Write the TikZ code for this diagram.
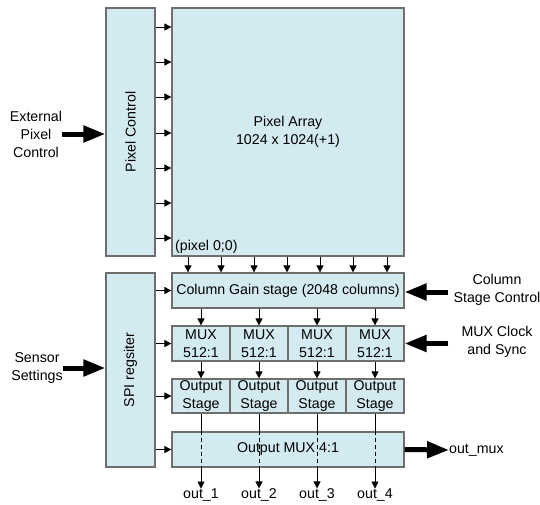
\documentclass[tikz,border=0pt]{standalone}
\usepackage{fontspec}
\setmainfont{Liberation Sans}
\usepackage{graphicx}
\usetikzlibrary{arrows.meta}
\definecolor{boxfill}{RGB}{211,234,240}
\definecolor{boxline}{RGB}{110,110,110}
\begin{document}
\begin{tikzpicture}[x=1pt,y=-1pt,
  blk/.style={draw=boxline, fill=boxfill, line width=1.2pt, inner sep=0pt, font=\fontsize{14.2}{18}\selectfont, align=center},
  sarr/.style={-{Triangle[length=7pt,width=7pt]}, line width=0.7pt},
  bigarr/.style={-{Triangle[length=22pt,width=16pt]}, line width=5pt},
  lbl/.style={font=\fontsize{14.2}{18}\selectfont, align=center, inner sep=0pt}]
\useasboundingbox (0,0) rectangle (540,504);
% upper part
\node[blk, minimum width=49pt, minimum height=248pt] (pc) at (130.5,132) {\rotatebox{90}{Pixel Control}};
\node[blk, minimum width=232pt, minimum height=248pt] (pa) at (288,132) {Pixel Array\\1024 x 1024(+1)};
\node[lbl, anchor=west] (p00) at (175,247) {(pixel 0;0)};
\foreach \y in {27,62,97,133,168,203,238}
  \draw[sarr] (pc.east |- 0,\y) -- (pa.west |- 0,\y);
% lower part
\node[blk, minimum width=49pt, minimum height=194pt] (spi) at (130.5,370) {\rotatebox{90}{SPI regsiter}};
\node[blk, minimum width=232pt, minimum height=35pt] (cg) at (288,290.5) {Column Gain stage (2048 columns)};
\foreach \x in {188,221,254,287,320,353,387}
  \draw[sarr] (pa.south -| \x,0) -- (cg.north -| \x,0);
\foreach \i/\x in {1/201,2/259,3/317,4/375}{
  \node[blk, minimum width=58pt, minimum height=35pt] (mux\i) at (\x,343.5) {MUX\\512:1};
  \node[blk, minimum width=58pt, minimum height=34pt] (os\i) at (\x,396) {Output\\Stage};
}
\node[blk, minimum width=232pt, minimum height=35pt] (om) at (288,449.5) {Output MUX 4:1};
\foreach \i/\x in {1/201,2/259,3/317,4/375}{
  \node[lbl] (out\i) at (\x,495) {out\_\i};
  \draw[sarr] (cg.south -| mux\i) -- (mux\i.north);
  \draw[sarr] (mux\i.south) -- (os\i.north);
  \draw[line width=0.7pt] (os\i.south) -- (om.north -| os\i);
  \draw[line width=0.7pt, dash pattern=on 4pt off 3pt] (om.north -| os\i) -- (om.south -| os\i);
  \draw[sarr] (om.south -| os\i) -- (out\i.north);
}
\foreach \n in {cg,mux1,os1,om}
  \draw[sarr] (spi.east |- \n) -- (\n.west);
% external signals
\node[lbl] (ext) at (36,134) {External\\Pixel\\Control};
\draw[bigarr] (ext.east) -- (pc.west |- ext.east);
\node[lbl] (sens) at (37,368) {Sensor\\Settings};
\draw[bigarr] (sens.east) -- (spi.west |- sens.east);
\node[lbl] (csc) at (497,290) {Column\\Stage Control};
\coordinate (cscin) at (448,292);
\draw[bigarr] (cscin) -- (cg.east |- cscin);
\node[lbl] (mcs) at (497,342) {MUX Clock\\and Sync};
\coordinate (mcsin) at (448,343.5);
\draw[bigarr] (mcsin) -- (mux4.east |- mcsin);
\node[lbl, anchor=west] (omx) at (449,450) {out\_mux};
\draw[bigarr] (om.east) -- (omx.west);
\end{tikzpicture}
\end{document}
